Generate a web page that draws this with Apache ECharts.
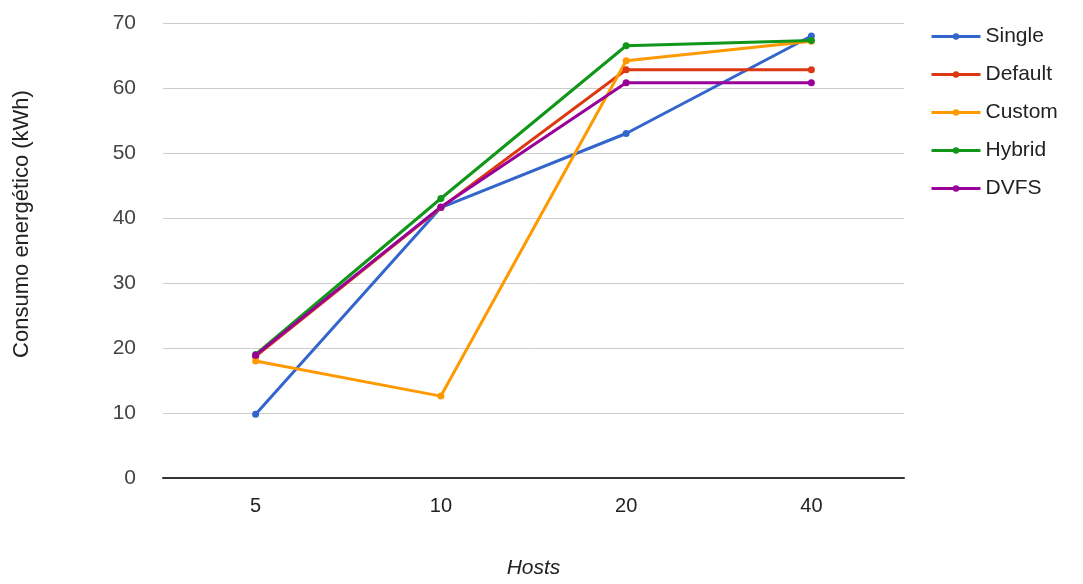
<!DOCTYPE html>
<html><head><meta charset="utf-8">
<script src="https://cdn.jsdelivr.net/npm/echarts@6/dist/echarts.min.js"></script>
<style>html,body{margin:0;padding:0;background:#fff}#c{width:1083px;height:584px}</style>
</head><body><div id="c"></div>
<script>
const categories = ['5', '10', '20', '40'];
const seriesNames = ['Single', 'Default', 'Custom', 'Hybrid', 'DVFS'];
const single  = [9.8, 41.6, 53.0, 68.0];
const def     = [18.7, 41.6, 62.8, 62.8];
const custom  = [18.0, 12.6, 64.2, 67.2];
const hybrid  = [19.0, 43.0, 66.5, 67.3];
const dvfs    = [18.9, 41.7, 60.8, 60.8];
const yTicks  = [0, 10, 20, 30, 40, 50, 60, 70];
const yTitle = 'Consumo energético (kWh)';
const xTitle = 'Hosts';
const colors = ['#3366cc', '#dc3912', '#ff9900', '#109618', '#990099'];
const values = [single, def, custom, hybrid, dvfs];

const font = 'Liberation Sans, Arial, sans-serif';
const chart = echarts.init(document.getElementById('c'), null, {renderer: 'canvas'});
chart.setOption({
  animation: false,
  color: colors,
  grid: {left: 163, right: 179, top: 23, bottom: 105, containLabel: false},
  legend: {
    orient: 'vertical', left: 925, top: 21,
    itemWidth: 49, itemHeight: 8, itemGap: 17,
    lineStyle: {width: 3},
    textStyle: {fontFamily: font, fontSize: 21, color: '#222'},
    data: seriesNames
  },
  graphic: [{
    type: 'text', rotation: Math.PI / 2,
    x: 22, y: 224,
    style: {text: yTitle, font: '22px ' + font, fill: '#222', align: 'center', verticalAlign: 'middle'}
  }],
  xAxis: {
    type: 'category', data: categories, boundaryGap: true,
    name: xTitle, nameLocation: 'middle', nameGap: 80,
    nameTextStyle: {fontFamily: font, fontSize: 21, fontStyle: 'italic', color: '#222'},
    axisLine: {lineStyle: {color: '#333', width: 2}},
    axisTick: {show: false},
    axisLabel: {fontFamily: font, fontSize: 20, color: '#222', margin: 18}
  },
  yAxis: {
    type: 'value', min: yTicks[0], max: yTicks[yTicks.length - 1], interval: 10,
    axisLine: {show: false}, axisTick: {show: false},
    splitLine: {lineStyle: {color: '#cccccc', width: 1}},
    axisLabel: {fontFamily: font, fontSize: 21, color: '#444', margin: 27}
  },
  series: values.map((v, i) => ({
    name: seriesNames[i], type: 'line', data: v,
    symbol: 'circle', symbolSize: 7, showSymbol: true,
    lineStyle: {width: 3}, itemStyle: {color: colors[i]}
  }))
});
</script></body></html>
